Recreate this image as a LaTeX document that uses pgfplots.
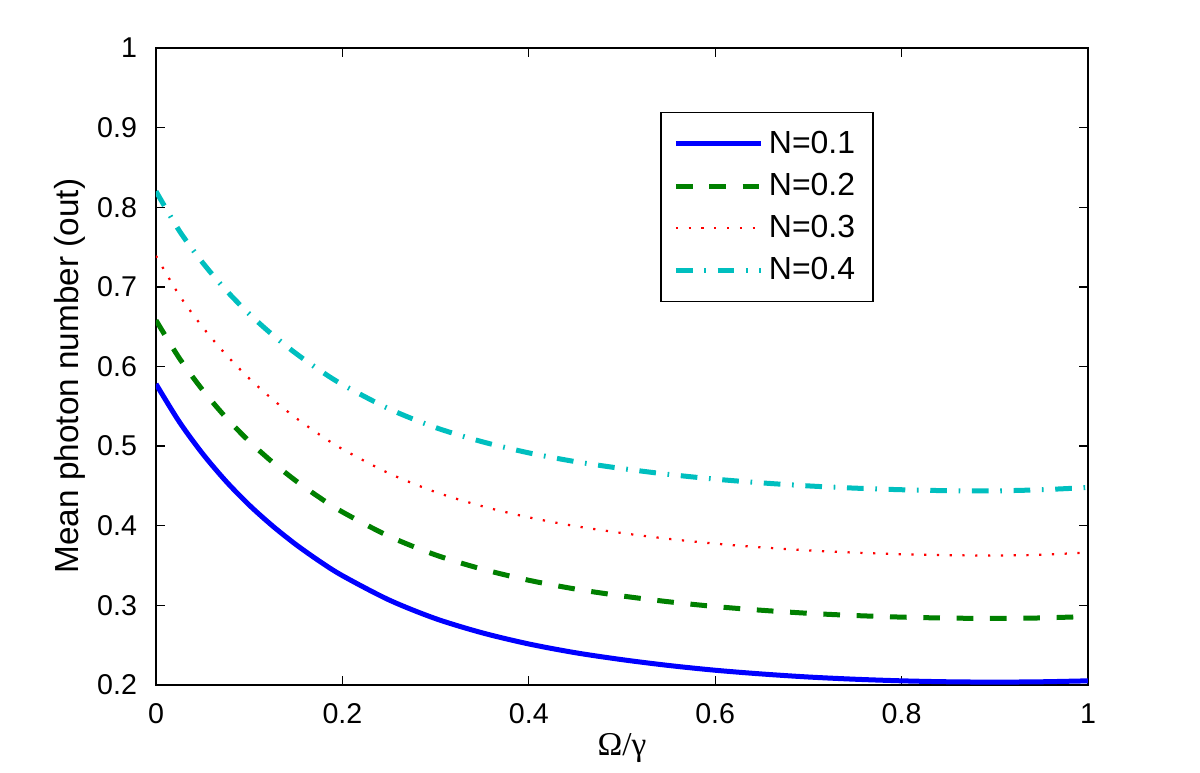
\documentclass[border=0pt]{standalone}
\usepackage{pgfplots}
\pgfplotsset{compat=1.18}
\usepackage{fontspec}
\setmainfont{Liberation Sans}
\newfontfamily\seriffont{Liberation Serif}
\usetikzlibrary{calc}
\definecolor{mgreen}{rgb}{0,0.5,0}
\definecolor{mcyan}{rgb}{0,0.75,0.75}
\begin{document}
\begin{tikzpicture}
\begin{axis}[name=ax, scale only axis, width=335.52pt, height=229.32pt,
  xmin=0, xmax=1, ymin=0.2, ymax=1,
  xtick={0,0.2,0.4,0.6,0.8,1},
  ytick={0.2,0.3,0.4,0.5,0.6,0.7,0.8,0.9,1},
  /pgf/number format/assume math mode=true,
  /pgf/number format/fixed,
  tick align=inside, major tick length=3.3pt,
  axis line style={line width=0.5pt}, every tick/.style={black, line width=0.5pt},
  tick label style={font=\fontsize{10.3}{12}\selectfont},
  xticklabel style={yshift=-3.3pt},
  yticklabel style={xshift=-3.3pt},
  every axis y label/.style={at={(axis description cs:-0.0923,0.485)}, rotate=90, anchor=center, font=\fontsize{12}{14}\selectfont},
  every axis x label/.style={at={(axis description cs:0.5,-0.099)}, anchor=center, font=\fontsize{12}{14}\selectfont},
  ylabel={Mean photon number (out)},
  xlabel={\seriffont Ω/γ},
  legend style={at={(axis description cs:0.541,0.8995)}, anchor=north west, draw=black, line width=0.5pt,
    font=\fontsize{11.5}{13}\selectfont, row sep=1.6pt, inner xsep=4.5pt, inner ysep=4.5pt, cells={anchor=west}},
  legend image code/.code={\draw[#1] (0pt,0pt) -- (30.6pt,0pt);},
]
\addplot[blue, line width=1.8pt, smooth] coordinates {
(0,0.578) (0.025,0.5305) (0.05,0.4905) (0.075,0.456) (0.1,0.426) (0.125,0.3998) (0.15,0.3765) (0.175,0.3558)
(0.2,0.3373) (0.25,0.3068) (0.3,0.2833) (0.35,0.2655) (0.4,0.2515) (0.45,0.2405) (0.5,0.2318) (0.55,0.2245)
(0.6,0.2185) (0.65,0.2138) (0.7,0.2100) (0.75,0.2072) (0.8,0.2052) (0.85,0.2040) (0.9,0.2036) (0.95,0.2040) (1,0.2052)};
\addlegendentry{N=0.1}
\addplot[mgreen, line width=1.8pt, dash pattern=on 6pt off 6pt, smooth] coordinates {
(0,0.658) (0.025,0.6105) (0.05,0.5705) (0.075,0.536) (0.1,0.506) (0.125,0.4798) (0.15,0.4565) (0.175,0.4358)
(0.2,0.4173) (0.25,0.3868) (0.3,0.3633) (0.35,0.3455) (0.4,0.3315) (0.45,0.3205) (0.5,0.3118) (0.55,0.3045)
(0.6,0.2985) (0.65,0.2938) (0.7,0.2900) (0.75,0.2872) (0.8,0.2852) (0.85,0.2840) (0.9,0.2836) (0.95,0.2842) (1,0.2860)};
\addlegendentry{N=0.2}
\addplot[red, line width=0.8pt, dash pattern=on 0.8pt off 3.8pt, smooth] coordinates {
(0,0.739) (0.025,0.6895) (0.05,0.6495) (0.075,0.615) (0.1,0.585) (0.125,0.5588) (0.15,0.5355) (0.175,0.5148)
(0.2,0.4963) (0.25,0.4658) (0.3,0.4423) (0.35,0.4245) (0.4,0.4105) (0.45,0.3995) (0.5,0.3908) (0.55,0.3835)
(0.6,0.3775) (0.65,0.3728) (0.7,0.3690) (0.75,0.3662) (0.8,0.3642) (0.85,0.3630) (0.9,0.3626) (0.95,0.3635) (1,0.3665)};
\addlegendentry{N=0.3}
\addplot[mcyan, line width=1.8pt, dash pattern=on 6pt off 4.2pt on 0.6pt off 4.2pt, smooth] coordinates {
(0,0.820) (0.025,0.7705) (0.05,0.7305) (0.075,0.696) (0.1,0.666) (0.125,0.6398) (0.15,0.6165) (0.175,0.5958)
(0.2,0.5773) (0.25,0.5468) (0.3,0.5233) (0.35,0.5055) (0.4,0.4915) (0.45,0.4805) (0.5,0.4718) (0.55,0.4645)
(0.6,0.4585) (0.65,0.4538) (0.7,0.4500) (0.75,0.4472) (0.8,0.4452) (0.85,0.4440) (0.9,0.4438) (0.95,0.4452) (1,0.4480)};
\addlegendentry{N=0.4}
\end{axis}
\path ($(ax.south west)+(-56.16pt,-31.68pt)$) rectangle ($(ax.north east)+(40.32pt,17.28pt)$);
\end{tikzpicture}
\end{document}
